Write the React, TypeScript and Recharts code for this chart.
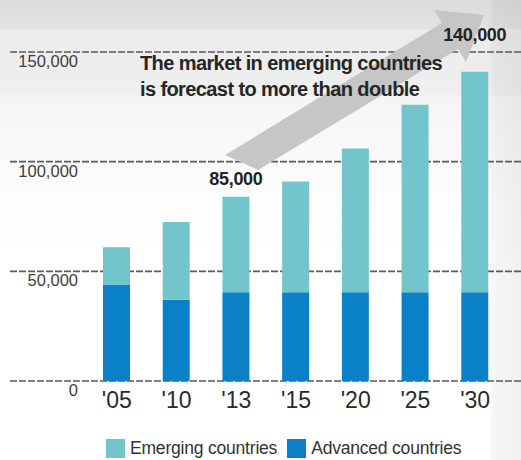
import React from "react";
import {
  BarChart,
  Bar,
  XAxis,
  YAxis,
  CartesianGrid,
  Legend,
  LabelList,
  Customized,
} from "recharts";

const years = ["'05", "'10", "'13", "'15", "'20", "'25", "'30"];
const advanced = [44000, 37000, 40500, 40500, 40500, 40500, 40500];
const emerging = [17000, 35500, 43500, 50500, 65500, 85500, 100500];
const totalLabels = ["", "", "85,000", "", "", "", "140,000"];
const yTicks = [0, 50000, 100000, 150000];
const seriesNames = ["Emerging countries", "Advanced countries"];
const noteLines = ["The market in emerging countries", "is forecast to more than double"];

const EMERGING = "#72c5cb";
const ADVANCED = "#0a80c6";
const FONT = "'Liberation Sans', Arial, sans-serif";

const data = years.map((y, i) => ({
  year: y,
  advanced: advanced[i],
  emerging: emerging[i],
  label: totalLabels[i],
}));

const fmt = (v: number) => v.toLocaleString("en-US");

const YTick = (props: any) => {
  const { x, y, payload } = props;
  return (
    <text x={x} y={y + 15} textAnchor="end" fontSize={16.5} fill="#3d3d3d" fontFamily={FONT}>
      {fmt(payload.value)}
    </text>
  );
};

const XTick = (props: any) => {
  const { x, y, payload } = props;
  return (
    <text x={x} y={y + 19} textAnchor="middle" fontSize={23} fill="#2a2a2a" fontFamily={FONT}>
      {payload.value}
    </text>
  );
};

const GridLine = (props: any) => {
  const { y1, y2, x1, x2 } = props;
  return (
    <line
      key={`g-${y1}`}
      x1={x1 - 77}
      x2={x2 + 16}
      y1={y1}
      y2={y2}
      stroke="#5a5a5a"
      strokeWidth={1.6}
      strokeDasharray="7 2"
    />
  );
};

const Arrow = () => (
  <g>
    <polygon
      points="225,155 442,23 434,10 484,15 466,62 458,49 258,170"
      fill="#c6c6c6"
    />
    {noteLines.map((t, i) => (
      <text
        key={i}
        x={140}
        y={70 + i * 26}
        fontSize={20}
        fontWeight={600}
        letterSpacing={-0.6}
        fill="#262626"
        fontFamily={FONT}
      >
        {t}
      </text>
    ))}
  </g>
);

const TopLabel = (props: any) => {
  const { x, y, width, value, index } = props;
  if (!value) return null;
  const lift = index === years.length - 1 ? 31 : 12;
  return (
    <text
      x={x + width / 2}
      y={y - lift}
      textAnchor="middle"
      fontSize={18}
      fontWeight={600}
      letterSpacing={-0.3}
      fill="#222"
      fontFamily={FONT}
    >
      {value}
    </text>
  );
};

const LegendContent = () => (
  <div
    style={{
      height: 24,
      display: "flex",
      alignItems: "center",
      fontFamily: FONT,
      fontSize: 17.5,
      color: "#333",
      letterSpacing: -0.2,
      paddingLeft: 98,
    }}
  >
    {[EMERGING, ADVANCED].map((c, i) => (
      <div key={i} style={{ display: "flex", alignItems: "center", marginRight: 10 }}>
        <span style={{ width: 19, height: 19, background: c, display: "inline-block", marginRight: 5 }} />
        <span>{seriesNames[i]}</span>
      </div>
    ))}
  </div>
);

export default function App() {
  return (
    <div
      style={{
        position: "absolute",
        left: 0,
        top: 0,
        width: 521,
        height: 460,
        background:
          "linear-gradient(to right, rgba(0,0,0,0) 488px, rgba(0,0,0,0.035) 493px, rgba(0,0,0,0.06) 521px), linear-gradient(to bottom, #dcdcdc 0px, #e2e2e2 28px, #ececec 30px, #efefef 94px, #f5f5f5 97px, #f8f8f8 130px, #fdfdfd 200px, #ffffff 260px)",
      }}
    >
      <BarChart
        width={521}
        height={460}
        data={data}
        margin={{ top: 52, right: 16, bottom: 0, left: 8 }}
        barSize={27}
      >
        <CartesianGrid vertical={false} horizontal={GridLine as any} stroke="#5a5a5a" />
        <Customized component={Arrow} />
        <XAxis
          dataKey="year"
          axisLine={false}
          tickLine={false}
          height={55}
          tick={<XTick />}
          interval={0}
        />
        <YAxis
          domain={[0, 150000]}
          ticks={yTicks}
          axisLine={false}
          tickLine={false}
          tickSize={0}
          tickMargin={9}
          width={79}
          tick={<YTick />}
        />
        <Legend verticalAlign="bottom" content={<LegendContent />} wrapperStyle={{ height: 24 }} />
        <Bar dataKey="advanced" stackId="a" fill={ADVANCED} isAnimationActive={false} />
        <Bar dataKey="emerging" stackId="a" fill={EMERGING} isAnimationActive={false}>
          <LabelList dataKey="label" content={<TopLabel />} />
        </Bar>
      </BarChart>
    </div>
  );
}
